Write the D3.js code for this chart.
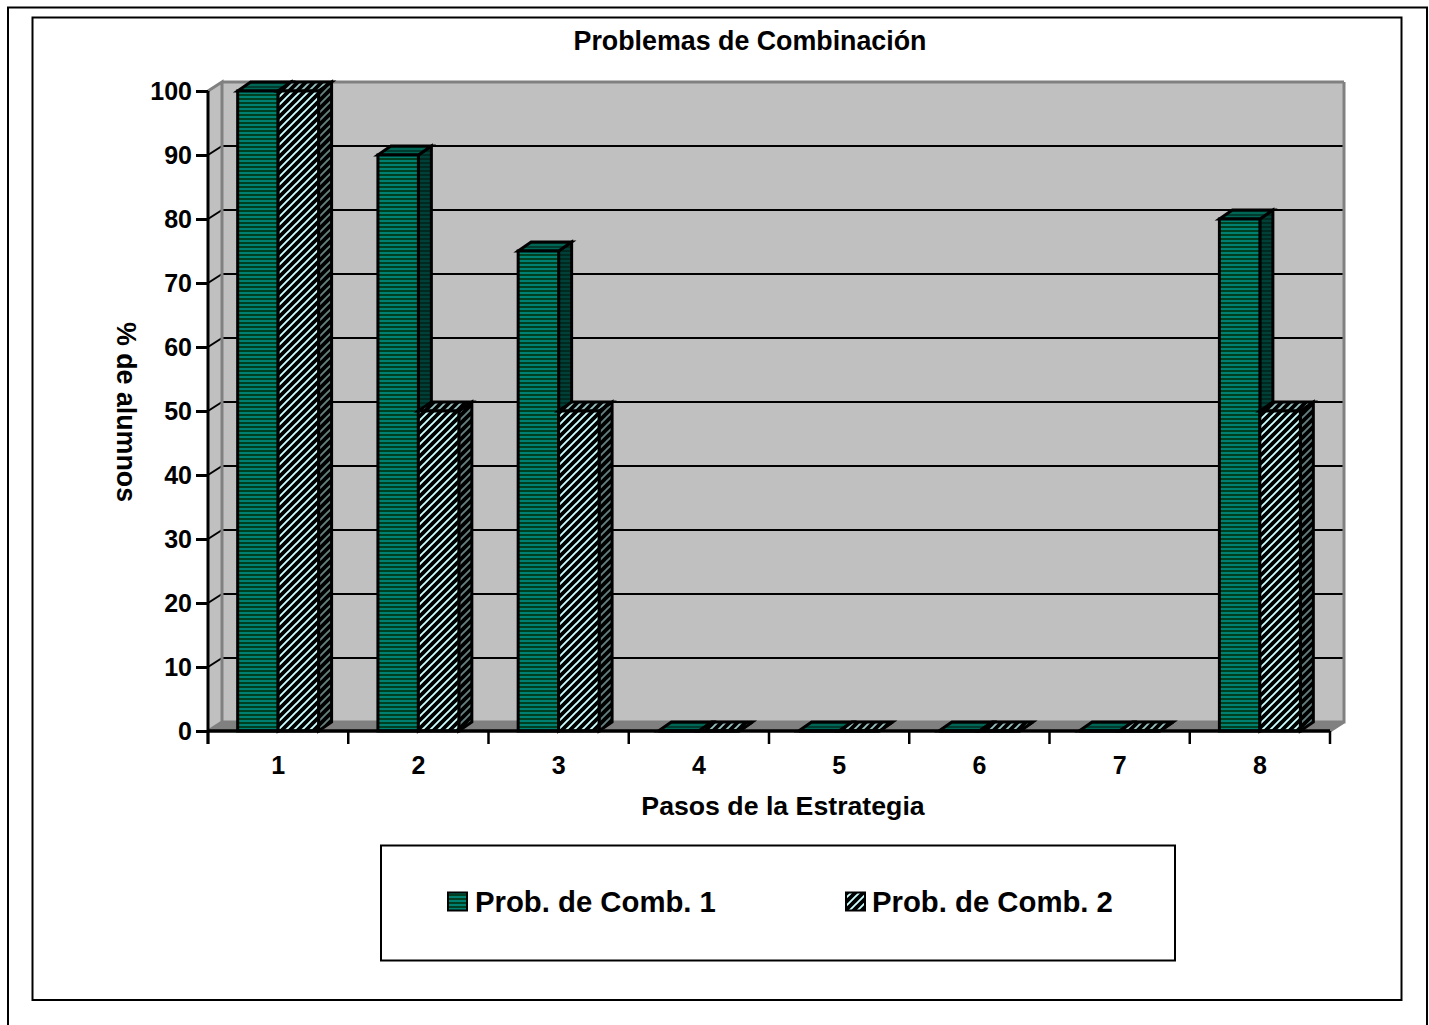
<!DOCTYPE html>
<html>
<head>
<meta charset="utf-8">
<script src="https://cdn.jsdelivr.net/npm/d3@7"></script>
<style>
  html, body { margin: 0; padding: 0; background: #fff; overflow: hidden; }
  svg { display: block; }
  text { font-family: "Liberation Sans", Arial, sans-serif; font-weight: bold; fill: #000; }
</style>
</head>
<body>
<div id="chart"></div>
<script>
const pasos = ["1", "2", "3", "4", "5", "6", "7", "8"];
const combinacion1 = [100, 90, 75, 0, 0, 0, 0, 80];
const combinacion2 = [100, 50, 50, 0, 0, 0, 0, 50];
const yTicks = [0, 10, 20, 30, 40, 50, 60, 70, 80, 90, 100];
const nombresSerie = ["Prob. de Comb. 1", "Prob. de Comb. 2"];

const svg = d3.select("#chart").append("svg").attr("width", 1429).attr("height", 1025);
const defs = svg.append("defs");

// Horizontal stripes for the first series, in three shades for the cube faces.
function stripes(id, light, dark) {
  const p = defs.append("pattern").attr("id", id).attr("patternUnits", "userSpaceOnUse")
    .attr("width", 4).attr("height", 4);
  p.append("rect").attr("width", 4).attr("height", 4).attr("fill", light);
  p.append("rect").attr("y", 2).attr("width", 4).attr("height", 2).attr("fill", dark);
}
stripes("franjaFrente", "#008070", "#004020");
stripes("franjaLado", "#004038", "#002a20");
stripes("franjaTapa", "#006656", "#003c30");

// Diagonal hatch for the second series.
function hatch(id, light) {
  const p = defs.append("pattern").attr("id", id).attr("patternUnits", "userSpaceOnUse")
    .attr("width", 8).attr("height", 8);
  p.append("rect").attr("width", 8).attr("height", 8).attr("fill", "#000");
  p.append("path").attr("d", "M-2,2 L2,-2 M-2,10 L10,-2 M6,10 L10,6")
    .attr("stroke", light).attr("stroke-width", 1.9);
}
hatch("rayaFrente", "#ccffff");
hatch("rayaLado", "#668080");
hatch("rayaTapa", "#99bfbf");

// Page and chart-area frames.
svg.append("rect").attr("x", 8).attr("y", 7.5).attr("width", 1419).attr("height", 1030)
  .attr("fill", "#fff").attr("stroke", "#000").attr("stroke-width", 2);
svg.append("rect").attr("x", 32.5).attr("y", 17.5).attr("width", 1369).attr("height", 982.5)
  .attr("fill", "#fff").attr("stroke", "#000").attr("stroke-width", 2);

const dx = 14, dy = 9;
const x = d3.scaleBand().domain(pasos).range([208, 1330]);
const y = d3.scaleLinear().domain([0, 100]).range([731, 91]);
const x0 = x.range()[0], x1 = x.range()[1];
const yB = y(0), yT = y(100);

// Back wall, side wall and floor of the 3D box.
svg.append("path")
  .attr("d", `M${x0 + dx},${yT - dy}H${x1 + dx}V${yB - dy}H${x0 + dx}Z`)
  .attr("fill", "#c0c0c0");
svg.append("path")
  .attr("d", `M${x0},${yT}L${x0 + dx},${yT - dy}V${yB - dy}L${x0},${yB}Z`)
  .attr("fill", "#c0c0c0");
svg.append("path")
  .attr("d", `M${x0},${yB}L${x0 + dx},${yB - dy}H${x1 + dx}L${x1},${yB}Z`)
  .attr("fill", "#808080");

// Gridlines across the back wall and their returns on the side wall.
svg.append("g").selectAll("line.back").data(yTicks.slice(1)).join("line")
  .attr("x1", x0 + dx).attr("x2", x1 + dx)
  .attr("y1", d => y(d) - dy).attr("y2", d => y(d) - dy)
  .attr("stroke", d => d === 100 ? "#808080" : "#000").attr("stroke-width", d => d === 100 ? 3 : 2);
svg.append("g").selectAll("line.side").data(yTicks.slice(1, -1)).join("line")
  .attr("x1", x0).attr("x2", x0 + dx)
  .attr("y1", d => y(d)).attr("y2", d => y(d) - dy)
  .attr("stroke", "#000").attr("stroke-width", 2);

// Wall edges.
svg.append("path")
  .attr("d", `M${x0},${yT}L${x0 + dx},${yT - dy}V${yB - dy}L${x0},${yB}M${x0 + dx},${yB - dy}H${x1 + dx}V${yT - dy}M${x1 + dx},${yB - dy}L${x1},${yB}`)
  .attr("fill", "none").attr("stroke", "#808080").attr("stroke-width", 3);

// Cube bars: two series side by side inside each category band.
const gap = x.bandwidth() * 0.2115;
const barW = (x.bandwidth() - 2 * gap) / 2;
const barDx = 13;
function drawSeries(values, offset, front, side, top) {
  const g = svg.append("g");
  pasos.forEach((p, i) => {
    const v = values[i];
    const l = x(p) + gap + offset * barW, r = l + barW, t = y(v), b = y(0);
    const face = (d, fill) => g.append("path").attr("d", d).attr("fill", fill)
      .attr("stroke", "#000").attr("stroke-width", 3).attr("stroke-linejoin", "miter");
    face(`M${r},${t}L${r + barDx},${t - dy}V${b - dy}L${r},${b}Z`, `url(#${side})`);
    face(`M${l},${t}L${l + barDx},${t - dy}H${r + barDx}L${r},${t}Z`, `url(#${top})`);
    face(`M${l},${t}H${r}V${b}H${l}Z`, `url(#${front})`);
  });
}
drawSeries(combinacion1, 0, "franjaFrente", "franjaLado", "franjaTapa");
drawSeries(combinacion2, 1, "rayaFrente", "rayaLado", "rayaTapa");

// Front axes, drawn by d3 over the bars' bases.
const fuente = '"Liberation Sans", Arial, sans-serif';
const ejeY = svg.append("g").attr("transform", `translate(${x0},0)`)
  .call(d3.axisLeft(y).tickValues(yTicks).tickSize(12).tickPadding(4));
ejeY.select(".domain").attr("stroke", "#000").attr("stroke-width", 3).attr("d", `M0,${yT}V${yB + 13}`);
ejeY.selectAll(".tick line").attr("stroke", "#000").attr("stroke-width", 3);
ejeY.selectAll(".tick text").attr("font-size", 25).style("font-family", fuente);

const ejeX = svg.append("g").attr("transform", `translate(0,${yB})`)
  .call(d3.axisBottom(x).tickSize(0).tickPadding(25));
ejeX.select(".domain").attr("stroke", "#000").attr("stroke-width", 3.5).attr("d", `M${x0},0H${x1}`);
ejeX.selectAll(".tick text").attr("font-size", 25).style("font-family", fuente);
ejeX.selectAll(".tick line").remove();
svg.append("g").selectAll("line").data(pasos.concat("fin")).join("line")
  .attr("x1", (d, i) => x0 + i * x.step()).attr("x2", (d, i) => x0 + i * x.step())
  .attr("y1", yB).attr("y2", yB + 13)
  .attr("stroke", "#000").attr("stroke-width", 2.5);

// Titles.
svg.append("text").attr("x", 750).attr("y", 50).attr("text-anchor", "middle").attr("font-size", 26.8)
  .text("Problemas de Combinación");
svg.append("text").attr("x", 783).attr("y", 815).attr("text-anchor", "middle").attr("font-size", 26.7)
  .text("Pasos de la Estrategia");
svg.append("text").attr("transform", "translate(117,412) rotate(90)").attr("text-anchor", "middle").attr("font-size", 26.8)
  .text("% de alumnos");

// Legend.
svg.append("rect").attr("x", 381).attr("y", 845.5).attr("width", 794).attr("height", 115)
  .attr("fill", "#fff").attr("stroke", "#000").attr("stroke-width", 2);
const leyenda = [
  { nombre: nombresSerie[0], swatch: "franjaFrente", xs: 448, xt: 475 },
  { nombre: nombresSerie[1], swatch: "rayaFrente", xs: 846, xt: 872 }
];
leyenda.forEach(e => {
  svg.append("rect").attr("x", e.xs).attr("y", 892.5).attr("width", 19).attr("height", 18)
    .attr("fill", `url(#${e.swatch})`).attr("stroke", "#000").attr("stroke-width", 2);
  svg.append("text").attr("x", e.xt).attr("y", 912).attr("font-size", 29.3).text(e.nombre);
});
</script>
</body>
</html>
